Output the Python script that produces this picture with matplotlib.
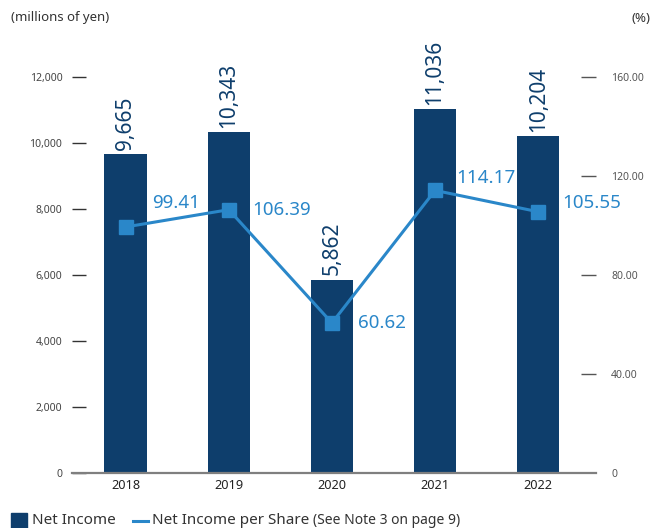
import matplotlib
matplotlib.use("Agg")
import matplotlib.pyplot as plt
from matplotlib.patches import Rectangle
from matplotlib.lines import Line2D

plt.rcParams['font.family'] = ['Noto Sans', 'DejaVu Sans']

years = ["2018", "2019", "2020", "2021", "2022"]
net_income = [9665, 10343, 5862, 11036, 10204]
per_share = [99.41, 106.39, 60.62, 114.17, 105.55]
per_share_labels = ["99.41", "106.39", "60.62", "114.17", "105.55"]
left_ticks = [0, 2000, 4000, 6000, 8000, 10000, 12000]
left_ticklabels = ["0", "2,000", "4,000", "6,000", "8,000", "10,000", "12,000"]
right_ticks = [0, 40, 80, 120, 160]
right_ticklabels = ["0", "40.00", "80.00", "120.00", "160.00"]

# label offsets (points) for line value labels
lbl_off = [(19, 17), (17, 0), (19, 0), (15, 9), (17, 6)]

BAR = "#0e3e6c"
LINE = "#2a87c9"

fig = plt.figure(figsize=(6.56, 5.28), dpi=100)
ax = fig.add_axes([72/656, 55/528, 524/656, 396/528])
x = list(range(len(years)))
ax.bar(x, net_income, width=0.41, color=BAR, zorder=2)
ax.set_xlim(-0.52, 4.56)
ax.set_ylim(0, 12000)
for s in ["top", "right", "left"]:
    ax.spines[s].set_visible(False)
ax.spines["bottom"].set_color("#7f7f7f")
ax.spines["bottom"].set_linewidth(1.6)
ax.set_yticks(left_ticks)
ax.set_yticklabels(left_ticklabels, fontsize=7.5, color="#444444")
ax.tick_params(axis="y", direction="in", length=10, width=1.0, color="#333333", pad=7)
ax.set_xticks(x)
ax.set_xticklabels(years, fontsize=9.2, color="#222222")
ax.tick_params(axis="x", length=0, pad=4)

for xi, v in zip(x, net_income):
    ax.annotate(f"{v:,}", (xi, v), xytext=(0, 3), textcoords="offset points",
                rotation=90, ha="center", va="bottom", fontsize=15,
                color=BAR, annotation_clip=False)

ax2 = ax.twinx()
ax2.set_ylim(0, 160)
for s in ["top", "right", "left", "bottom"]:
    ax2.spines[s].set_visible(False)
ax2.set_yticks(right_ticks)
ax2.set_yticklabels(right_ticklabels, fontsize=7.5, color="#555555")
ax2.tick_params(axis="y", direction="in", length=11, width=1.0, color="#555555", pad=11)
ax2.yaxis.get_major_ticks()[0].tick2line.set_visible(False)
ax2.plot(x, per_share, color=LINE, lw=2.2, marker="s", markersize=10.5,
         zorder=3, clip_on=False)
for xi, v, t, (dx, dy) in zip(x, per_share, per_share_labels, lbl_off):
    ax2.annotate(t, (xi, v), xytext=(dx, dy), textcoords="offset points",
                 ha="left", va="center", fontsize=13.5, color=LINE,
                 annotation_clip=False)

fig.text(11/656, 1 - 18/528, "(millions of yen)", fontsize=9.5, color="#333333",
         ha="left", va="center")
fig.text(650/656, 1 - 18/528, "(%)", fontsize=9.5, color="#333333",
         ha="right", va="center")

# legend
fig.patches.append(Rectangle((11/656, 0), 16/656, 15/528,
                             transform=fig.transFigure, color=BAR))
fig.text(32/656, 1 - 520/528, "Net Income", fontsize=11, color="#333333",
         ha="left", va="center")
fig.lines.append(Line2D([133/656, 148/656], [1 - 521/528, 1 - 521/528],
                        transform=fig.transFigure, color=LINE, lw=2.2))
fig.text(152/656, 1 - 520/528, "Net Income per Share", fontsize=11,
         color="#333333", ha="left", va="center")
fig.text(313/656, 1 - 520/528, "(See Note 3 on page 9)", fontsize=10,
         color="#333333", ha="left", va="center")

fig.savefig("out.png", dpi=100)
